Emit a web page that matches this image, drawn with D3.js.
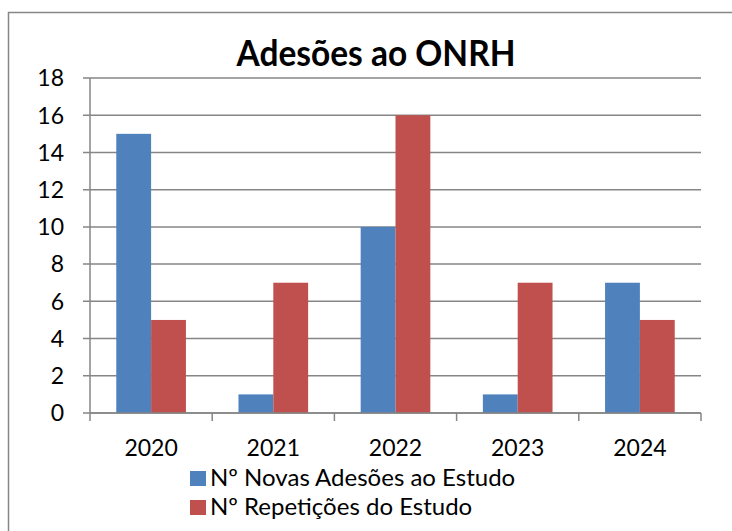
<!DOCTYPE html>
<html><head><meta charset="utf-8">
<script src="https://cdn.jsdelivr.net/npm/d3@7"></script>
<style>body{margin:0;background:#fff}svg{display:block}</style>
</head><body>
<svg id="c" width="732" height="531"></svg>
<script>
const title = "Adesões ao ONRH";
const categories = ["2020","2021","2022","2023","2024"];
const seriesNames = ["Nº Novas Adesões ao Estudo","Nº Repetições do Estudo"];
const novasAdesoes = [15,1,10,1,7];
const repeticoes = [5,7,16,7,5];
const yTicks = [0,2,4,6,8,10,12,14,16,18];
const colors = ["#4F81BD","#C0504D"];

const svg = d3.select("#c");
const font = "Lato, 'Open Sans', sans-serif";
svg.append("rect").attr("x",8.5).attr("y",12.5).attr("width",760).attr("height",560)
  .attr("fill","#fff").attr("stroke","#868686").attr("stroke-width",1.5);

const L=90, R=701, T=78, B=413;
const x = d3.scaleBand().domain(categories).range([L,R]).paddingInner(0.43).paddingOuter(0.215);
const x1 = d3.scaleBand().domain([0,1]).range([0,x.bandwidth()]);
const y = d3.scaleLinear().domain([0,18]).range([B,T]);

const g = svg.append("g");
g.selectAll(".grid").data(yTicks).join("line")
  .attr("x1",L-7).attr("x2",R).attr("y1",d=>y(d)).attr("y2",d=>y(d))
  .attr("stroke","#868686").attr("stroke-width",1.5);
g.selectAll(".yl").data(yTicks).join("text")
  .attr("x",64).attr("y",d=>y(d)).attr("dy","0.36em").attr("text-anchor","end")
  .attr("font-family",font).attr("font-size",23).attr("fill","#000").text(d=>d);

const data = categories.map((c,i)=>({c, v:[novasAdesoes[i],repeticoes[i]]}));
const grp = g.selectAll(".grp").data(data).join("g").attr("transform",d=>`translate(${x(d.c)},0)`);
grp.selectAll("rect").data(d=>d.v.map((v,k)=>({v,k}))).join("rect")
  .attr("x",d=>x1(d.k)).attr("width",x1.bandwidth()).attr("y",d=>y(d.v)).attr("height",d=>B-y(d.v))
  .attr("fill",d=>colors[d.k]);

// axes
g.append("line").attr("x1",L).attr("x2",L).attr("y1",T).attr("y2",B).attr("stroke","#868686").attr("stroke-width",1.5);
g.append("line").attr("x1",L).attr("x2",R).attr("y1",B).attr("y2",B).attr("stroke","#868686").attr("stroke-width",1.5);
const step = (R-L)/categories.length;
g.selectAll(".xt").data(d3.range(categories.length+1)).join("line")
  .attr("x1",i=>L+i*step).attr("x2",i=>L+i*step).attr("y1",B).attr("y2",B+8)
  .attr("stroke","#868686").attr("stroke-width",1.5);
g.selectAll(".xl").data(categories).join("text")
  .attr("x",d=>x(d)+x.bandwidth()/2).attr("y",456).attr("text-anchor","middle")
  .attr("font-family",font).attr("font-size",23).attr("fill","#000").text(d=>d);

svg.append("text").attr("x",376).attr("y",66).attr("text-anchor","middle")
  .attr("font-family",font).attr("font-weight","bold").attr("font-size",36).attr("fill","#000")
  .attr("textLength",279).attr("lengthAdjust","spacingAndGlyphs").text(title);

const leg = svg.append("g");
seriesNames.forEach((n,i)=>{
  const base = 486 + i*29;
  leg.append("rect").attr("x",190).attr("y",base-15).attr("width",16).attr("height",15).attr("fill",colors[i]);
  leg.append("text").attr("x",210).attr("y",base).attr("font-family",font)
    .attr("font-size",24).attr("fill","#000").text(n);
});
</script>
</body></html>
